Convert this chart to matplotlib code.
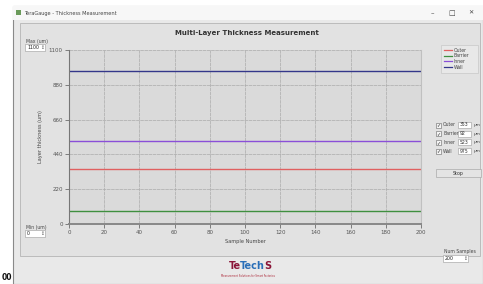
import matplotlib
matplotlib.use("Agg")
import matplotlib.pyplot as plt
from matplotlib.patches import Rectangle
import numpy as np

W, H = 483, 284

# ---- data ----
layers = ["Outer", "Barrier", "Inner", "Wall"]
layer_values = [350, 85, 525, 970]
field_values = ["353", "92", "523", "975"]
layer_colors = ["#e06060", "#3f8f3f", "#8a4fd8", "#34378a"]
num_samples = 200
x_ticks = [0, 20, 40, 60, 80, 100, 120, 140, 160, 180, 200]
y_ticks = [0, 220, 440, 660, 880, 1100]
y_max = 1100
y_min = 0

fig = plt.figure(figsize=(W / 100, H / 100), dpi=100)
fig.patch.set_facecolor("#ffffff")

def rect(x0, y0, x1, y1, fc, ec="none", lw=0.6, z=0):
    fig.patches.append(Rectangle((x0 / W, 1 - y1 / H), (x1 - x0) / W, (y1 - y0) / H,
                                 transform=fig.transFigure, fc=fc, ec=ec, lw=lw, zorder=z))

def txt(x, y, s, size=4, color="#333333", ha="left", va="center", **kw):
    return fig.text(x / W, 1 - y / H, s, fontsize=size, color=color, ha=ha, va=va, zorder=10, **kw)

# window
rect(13, 6, 483, 284, "#e9e9e9", ec="#8a8a8a", lw=0.8)
rect(13, 6, 483, 20, "#f7f7f7")
txt(24, 13, "TeraGauge - Thickness Measurement", size=3.6, color="#444444")
rect(16, 10, 21, 15, "#6a9a5a")
txt(432, 13, "\u2013", size=5, color="#444444", ha="center")
txt(452, 13, "\u25a1", size=5, color="#444444", ha="center")
txt(471, 13, "\u2715", size=4.5, color="#444444", ha="center")
# inner panel
rect(20, 23, 480, 256, "#e2e2e2", ec="#b5b5b5", lw=0.6)

# left-strip text
txt(2, 277, "00", size=5.5, color="#111111", weight="bold")

# ---- chart ----
ax = fig.add_axes([69 / W, 1 - 224 / H, (421 - 69) / W, (224 - 50) / H], zorder=5)
ax.set_facecolor("#dadada")
x = np.arange(num_samples + 1)
for name, val, col in zip(layers, layer_values, layer_colors):
    ax.plot(x, np.full(x.shape, val, dtype=float), color=col, lw=1.0, label=name)
ax.set_xlim(0, num_samples)
ax.set_ylim(y_min, y_max)
ax.set_xticks(x_ticks)
ax.set_yticks(y_ticks)
ax.grid(True, color="#ababab", lw=0.5, ls=(0, (5, 1)))
ax.tick_params(labelsize=4, colors="#555555", length=3, width=0.5, pad=1.5)
ax.spines["top"].set_visible(False)
ax.spines["right"].set_color("#c0c0c0")
ax.spines["left"].set_color("#777777")
ax.spines["bottom"].set_color("#888888")
ax.spines["bottom"].set_linewidth(1.4)
ax.set_xlabel("Sample Number", fontsize=3.6, color="#444444", labelpad=3)
ax.set_ylabel("Layer thickness (um)", fontsize=3.6, color="#444444", labelpad=4)

txt(247, 33, "Multi-Layer Thickness Measurement", size=5, color="#333333",
    ha="center", weight="bold")

# legend
rect(441, 45, 478, 73, "#e8e8e8", ec="#c8c8c8", lw=0.5)
for i, (name, col) in enumerate(zip(layers, layer_colors)):
    yy = 50 + i * 5.7
    fig.lines.append(plt.Line2D([444 / W, 452 / W], [1 - yy / H, 1 - yy / H],
                                transform=fig.transFigure, color=col, lw=0.9))
    txt(454, yy, name, size=3.3, color="#444444")

# checkboxes + fields
for i, (name, fv) in enumerate(zip(layers, field_values)):
    yy = 125 + i * 8.7
    rect(436, yy - 2.5, 441, yy + 2.5, "#f5f5f5", ec="#666666", lw=0.4)
    txt(438.5, yy, "\u2713", size=3.5, color="#222222", ha="center")
    txt(443, yy, name, size=3.3, color="#444444")
    rect(458, yy - 3, 471, yy + 3, "#ffffff", ec="#9a9a9a", lw=0.4)
    txt(460, yy, fv, size=3.3, color="#333333")
    txt(474, yy, "\u00b5m", size=3.2, color="#444444")

rect(436, 169, 481, 177, "#e4e4e4", ec="#aaaaaa", lw=0.5)
txt(458.5, 173, "Stop", size=3.4, color="#333333", ha="center")

# spinners
def spinner(x0, y0, x1, y1, val):
    rect(x0, y0, x1, y1, "#ffffff", ec="#9a9a9a", lw=0.4)
    txt(x0 + 2, (y0 + y1) / 2, val, size=3.4, color="#222222")
    txt(x1 - 3, (y0 + y1) / 2, "\u2195", size=3.4, color="#555555", ha="center")

txt(26, 41, "Max (um)", size=3.3, color="#444444")
spinner(25, 44, 45, 51, "1100")
txt(26, 227, "Min (um)", size=3.3, color="#444444")
spinner(25, 230, 45, 237, "0")
txt(444, 252, "Num Samples", size=3.3, color="#444444")
spinner(443, 255, 468, 262, "200")

# logo: pieces placed one after another using measured widths
renderer = fig.canvas.get_renderer()
xpos = 229
for part, col in [("Te", "#8a1538"), ("Tech", "#2a6fb8"), ("S", "#8a1538")]:
    t = txt(xpos, 266, part, size=7, color=col, weight="bold")
    bb = t.get_window_extent(renderer=renderer)
    xpos += bb.width - 0.9
txt(248, 276, "Measurement Solutions for Smart Factories", size=1.8, color="#aa2233", ha="center")

fig.savefig("out.png", dpi=100, facecolor=fig.get_facecolor())
